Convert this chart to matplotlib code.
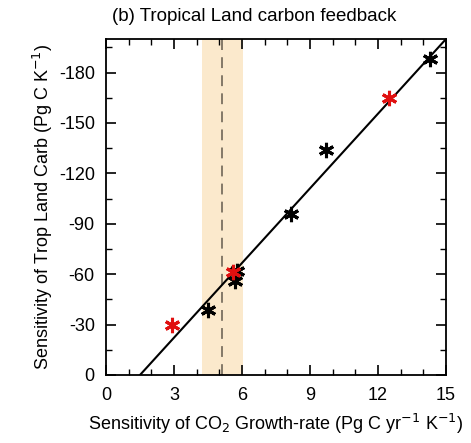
import numpy as np
import matplotlib.pyplot as plt
from matplotlib.ticker import MultipleLocator

# model sensitivities (x: CO2 growth-rate, y: tropical land carbon)
black_x = [14.3, 9.7, 8.16, 5.76, 5.69, 4.51]
black_y = [-187.8, -133.7, -96.1, -62.1, -56.2, -38.5]
red_x = [12.47, 5.62, 2.9]
red_y = [-164.7, -61.5, -29.6]

# observational constraint
obs_mean = 5.1
obs_low, obs_high = 4.22, 6.03

# regression line end points
line_x = [1.5, 15.0]
line_y = [0.0, -200.0]

plt.rcParams['font.family'] = ['Liberation Sans', 'DejaVu Sans']
plt.rcParams['axes.unicode_minus'] = False

fig = plt.figure(figsize=(4.71, 4.43), dpi=100)
ax = fig.add_axes([0.225, 0.1535, 0.722, 0.7585])

ax.axvspan(obs_low, obs_high, color='#fbe9cc', lw=0, zorder=0)
ax.axvline(obs_mean, color='#7a7060', ls=(0, (6, 4)), lw=1.3, zorder=1)

ax.plot(line_x, line_y, color='black', lw=1.5, zorder=2)

ast = (6, 2, 0)
ax.plot(black_x, black_y, ls='none', marker=ast, ms=11, mew=2.2, color='black', zorder=3)
ax.plot(red_x, red_y, ls='none', marker=ast, ms=11, mew=2.2, color='#e01010', zorder=4)

ax.set_xlim(0, 15)
ax.set_ylim(0, -200)
ax.set_xticks([0, 3, 6, 9, 12, 15])
ax.set_yticks([0, -30, -60, -90, -120, -150, -180])
ax.xaxis.set_minor_locator(MultipleLocator(1))
ax.yaxis.set_minor_locator(MultipleLocator(15))
ax.tick_params(which='both', direction='in', top=True, right=True, labelsize=13)
ax.tick_params(axis='x', pad=9)
ax.tick_params(axis='y', pad=8)
ax.tick_params(which='major', length=7, width=1.2)
ax.tick_params(which='minor', length=4, width=1)
for s in ax.spines.values():
    s.set_linewidth(1.3)

ax.set_xlabel('Sensitivity of CO$_2$ Growth-rate (Pg C yr$^{-1}$ K$^{-1}$)', fontsize=13, labelpad=5)
ax.set_ylabel('Sensitivity of Trop Land Carb (Pg C K$^{-1}$)', fontsize=13, labelpad=3)
ax.set_title('(b) Tropical Land carbon feedback', fontsize=13.5, pad=13, x=0.435)

fig.savefig('out.png', dpi=100)
